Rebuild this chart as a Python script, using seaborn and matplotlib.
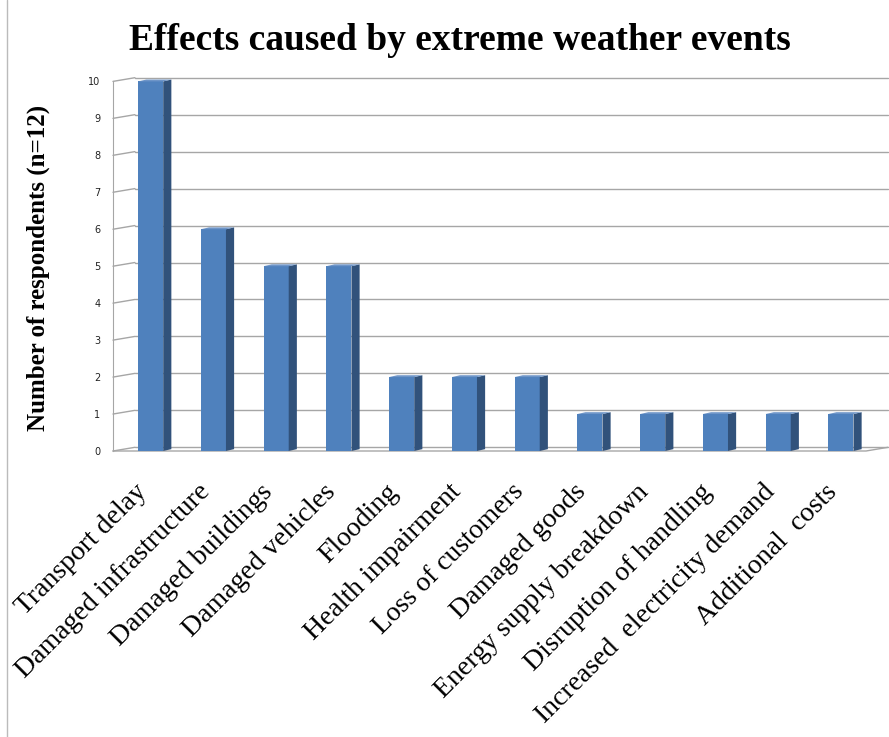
import matplotlib
matplotlib.use('Agg')
import matplotlib.pyplot as plt
import matplotlib.transforms as mtransforms
import seaborn as sns
import pandas as pd
from matplotlib.patches import Polygon
from matplotlib.lines import Line2D

effects = ['Transport delay', 'Damaged infrastructure', 'Damaged buildings',
           'Damaged vehicles', 'Flooding', 'Health impairment', 'Loss of customers',
           'Damaged goods', 'Energy supply breakdown', 'Disruption of handling',
           'Increased  electricity demand', 'Additional  costs']
respondents = [10, 6, 5, 5, 2, 2, 2, 1, 1, 1, 1, 1]
y_ticks = list(range(0, 11))

df = pd.DataFrame({'Effect': effects, 'Respondents': respondents})

sns.set_style('white')
serif = ['Liberation Serif', 'DejaVu Serif']

fig = plt.figure(figsize=(8.89, 7.37), dpi=100)
ax = fig.add_axes([113/889, 1-451/737, 775/889, 377/737])

front = '#4F81BD'
side = '#31527B'
top = '#6E95C8'
grid = '#A6A6A6'

n = len(effects)
# perspective offset of the back wall (in data units)
ox = 0.35
oy = 0.1

sns.barplot(data=df, x='Effect', y='Respondents', color=front, width=0.4,
            saturation=1, ax=ax, zorder=3)

# fake 3D depth on each bar
d = 0.13
dy = 0.05
for p in ax.patches:
    p.set_x(p.get_x() + 0.1)
    p.set_edgecolor('none')
    x0 = p.get_x()
    x1 = x0 + p.get_width()
    h = p.get_height()
    ax.add_patch(Polygon([(x1, 0), (x1 + d, dy), (x1 + d, h + dy), (x1, h)],
                         closed=True, facecolor=side, edgecolor='none', zorder=3))
    ax.add_patch(Polygon([(x0, h), (x0 + d, h + dy), (x1 + d, h + dy), (x1, h)],
                         closed=True, facecolor=top, edgecolor='none', zorder=3))

ax.set_xlim(-0.5, n - 0.5 + ox)
ax.set_ylim(0, 10.2)

# back wall gridlines and the slanted links to the y axis
for t in y_ticks:
    ax.plot([-0.5 + ox, n - 0.5 + ox], [t + oy, t + oy], color=grid, lw=1, zorder=1,
            clip_on=False)
    ax.plot([-0.5, -0.5 + ox], [t, t + oy], color=grid, lw=1, zorder=1, clip_on=False)
# floor front edge
ax.plot([-0.5, n - 0.5, n - 0.5 + ox], [0, 0, oy], color=grid, lw=1, zorder=2,
        clip_on=False)

ax.set_yticks(y_ticks)
ax.set_yticklabels([str(t) for t in y_ticks], fontsize=7, color='#222222')
ax.tick_params(axis='y', length=0, pad=9)

for s in ['top', 'right', 'bottom']:
    ax.spines[s].set_visible(False)
ax.spines['left'].set_color(grid)
ax.spines['left'].set_bounds(0, 10)

# category separator ticks under the floor
ax.set_xticks([i - 0.5 for i in range(n + 1)], minor=True)
ax.tick_params(axis='x', which='minor', length=7, color=grid, width=1)
ax.tick_params(axis='x', which='major', length=0, pad=24)
ax.set_xticks(range(n))
ax.set_xticklabels(effects, rotation=45, ha='right', rotation_mode='anchor',
                   fontsize=20, family=serif, color='black')
shift = mtransforms.ScaledTranslation(-0.1, 0.05, fig.dpi_scale_trans)
for lab in ax.get_xticklabels():
    lab.set_transform(lab.get_transform() + shift)

ax.set_xlabel('')
ax.set_ylabel('')
fig.text(38/889, 1-268/737, 'Number of respondents (n=12)', rotation=90,
         ha='center', va='center', fontsize=18, fontweight='bold', family=serif,
         color='black')

fig.text(460/889, 1-41/737, 'Effects caused by extreme weather events',
         ha='center', va='center', fontsize=27, fontweight='bold', family=serif,
         color='black')

fig.add_artist(Line2D([7/889, 7/889], [0, 1], transform=fig.transFigure,
                      color='#BBBBBB', linewidth=1))

fig.savefig('out.png', dpi=100)
